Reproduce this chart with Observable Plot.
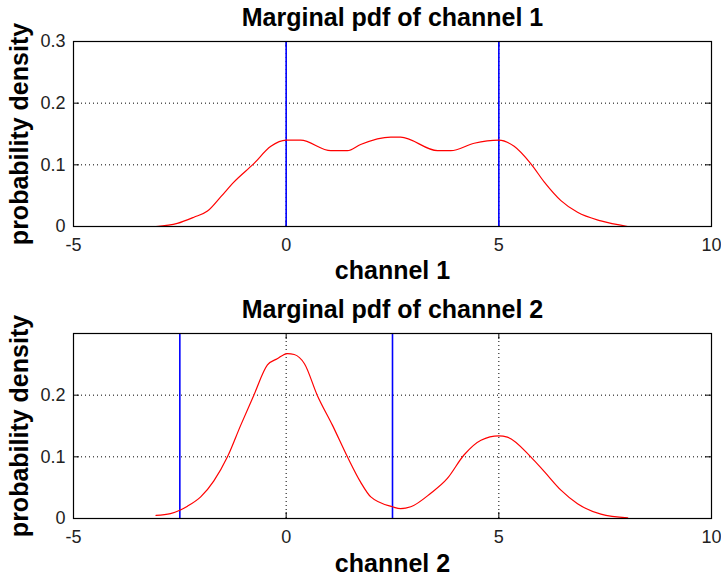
<!DOCTYPE html>
<html>
<head>
<meta charset="utf-8">
<script src="https://cdn.jsdelivr.net/npm/d3@7"></script>
<script src="https://cdn.jsdelivr.net/npm/@observablehq/plot@0.6"></script>
<style>
  html, body { margin: 0; padding: 0; background: #fff; }
  #chart { width: 721px; height: 576px; overflow: hidden; }
  #chart svg { display: block; }
</style>
</head>
<body>
<div id="chart"></div>
<script>
// ---- data ----
const titles = ["Marginal pdf of channel 1", "Marginal pdf of channel 2"];
const xLabels = ["channel 1", "channel 2"];
const yLabel = "probability density";

const xTicks = [-5, 0, 5, 10];
const yTicks1 = [0, 0.1, 0.2, 0.3];
const yTickLabels1 = ["0", "0.1", "0.2", "0.3"];
const yTicks2 = [0, 0.1, 0.2];
const yTickLabels2 = ["0", "0.1", "0.2"];

const ch1X = [-3.06, -2.56, -2.17, -1.85, -1.54, -1.23, -0.76, -0.36, 0, 0.34, 1.05, 1.44, 1.75, 2.46, 2.69, 3.56, 3.87, 4.42, 5.0, 5.36, 5.75, 6.07, 6.46, 6.85, 7.4, 8.03];
const ch1Y = [0.000, 0.005, 0.015, 0.025, 0.048, 0.072, 0.102, 0.130, 0.140, 0.140, 0.123, 0.123, 0.133, 0.145, 0.145, 0.123, 0.123, 0.135, 0.140, 0.130, 0.102, 0.072, 0.042, 0.023, 0.009, 0.000];

const ch2X = [-3.06, -2.72, -2.5, -2.32, -2.01, -1.70, -1.38, -1.07, -0.76, -0.44, -0.21, 0.03, 0.19, 0.43, 0.73, 1.09, 1.44, 1.75, 1.99, 2.5, 2.69, 2.93, 3.4, 3.79, 4.18, 4.58, 5.0, 5.2, 5.75, 6.07, 6.46, 6.85, 7.4, 8.03];
const ch2Y = [0.005, 0.008, 0.0135, 0.020, 0.035, 0.061, 0.100, 0.151, 0.200, 0.249, 0.259, 0.2675, 0.266, 0.251, 0.200, 0.151, 0.100, 0.059, 0.035, 0.019, 0.016, 0.019, 0.041, 0.065, 0.103, 0.127, 0.134, 0.132, 0.100, 0.076, 0.046, 0.024, 0.007, 0.001];

const centers1 = [0, 5];
const centers2 = [-2.5, 2.5];

// ---- drawing ----
const W = 721, H = 288;
const FONT = "'Liberation Sans', Arial, sans-serif";

function panel({title, xLabel, xs, ys, centers, yTicks, yTickLabels, marginTop, marginBottom, titleDy, xLabelDy}) {
  const data = xs.map((x, i) => ({x, y: ys[i]}));
  const frameW = W - 73 - 10;
  const frameH = H - marginTop - marginBottom;
  const tick = 6;
  return Plot.plot({
    width: W,
    height: H,
    marginLeft: 73,
    marginRight: 10,
    marginTop,
    marginBottom,
    style: {fontFamily: FONT, background: "#fff", overflow: "visible"},
    x: {domain: [-5, 10], axis: null},
    y: {domain: [0, 0.3], axis: null},
    marks: [
      Plot.gridY(yTicks.filter(v => v > 0 && v < 0.3), {stroke: "#000", strokeOpacity: 1, strokeDasharray: "1,3"}),
      Plot.gridX(xTicks.filter(v => v > -5 && v < 10), {stroke: "#000", strokeOpacity: 1, strokeDasharray: "1,3"}),
      // inward tick marks on all four sides
      Plot.tickX(xTicks, {x: d => d, stroke: "#000", insetTop: frameH - tick}),
      Plot.tickX(xTicks, {x: d => d, stroke: "#000", insetBottom: frameH - tick}),
      Plot.tickY(yTicks, {y: d => d, stroke: "#000", insetRight: frameW - tick}),
      Plot.tickY(yTicks, {y: d => d, stroke: "#000", insetLeft: frameW - tick}),
      Plot.ruleX(centers, {stroke: "#0000ff", strokeWidth: 1.6}),
      Plot.line(data, {x: "x", y: "y", stroke: "#ff0000", strokeWidth: 1.2, curve: "monotone-x"}),
      Plot.frame({stroke: "#000", strokeWidth: 1.2}),
      // tick labels
      Plot.text(xTicks, {x: d => d, frameAnchor: "bottom", lineAnchor: "bottom", dy: 24, text: d => String(d), fontSize: 18, fill: "#222"}),
      Plot.text(yTicks, {y: d => d, frameAnchor: "left", textAnchor: "end", dx: -8, text: (d, i) => yTickLabels[i], fontSize: 18, fill: "#222"}),
      // title and axis labels
      Plot.text([title], {frameAnchor: "top", lineAnchor: "bottom", dy: titleDy, text: d => d, fontSize: 25, fontWeight: "bold", fill: "#000"}),
      Plot.text([xLabel], {frameAnchor: "bottom", lineAnchor: "bottom", dy: xLabelDy, text: d => d, fontSize: 25, fontWeight: "bold", fill: "#000"}),
      Plot.text([yLabel], {frameAnchor: "left", textAnchor: "middle", lineAnchor: "bottom", rotate: -90, dx: -46, text: d => d, fontSize: 25, fontWeight: "bold", fill: "#000"})
    ]
  });
}

const chart = document.getElementById("chart");
chart.appendChild(panel({
  title: titles[0], xLabel: xLabels[0], xs: ch1X, ys: ch1Y, centers: centers1,
  yTicks: yTicks1, yTickLabels: yTickLabels1,
  marginTop: 41, marginBottom: 62, titleDy: -16, xLabelDy: 52
}));
chart.appendChild(panel({
  title: titles[1], xLabel: xLabels[1], xs: ch2X, ys: ch2Y, centers: centers2,
  yTicks: yTicks2, yTickLabels: yTickLabels2,
  marginTop: 45, marginBottom: 58, titleDy: -16, xLabelDy: 53
}));
</script>
</body>
</html>
